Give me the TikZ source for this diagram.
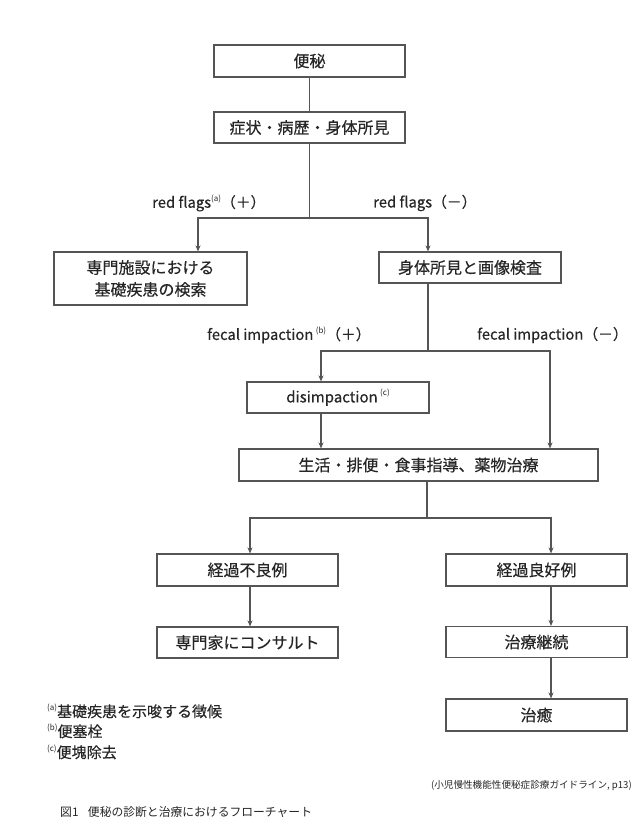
\documentclass[tikz,border=0pt]{standalone}
\usepackage{fontspec}
\setmainfont{Noto Sans CJK JP}[FakeBold=0.35]
\newfontfamily\plainjp{Noto Sans CJK JP}
\usetikzlibrary{arrows.meta}
\definecolor{lc}{HTML}{555555}
\definecolor{tc}{HTML}{262626}
\newcommand\sps[1]{\raisebox{0.45em}{\plainjp\fontsize{8}{8}\selectfont(#1)}}
\begin{document}
\begin{tikzpicture}[x=1pt,y=-1pt,
  box/.style={draw=lc, line width=1.1pt, text=tc, inner sep=0pt, font=\fontsize{16}{22}\selectfont, align=center},
  ln/.style={draw=lc, line width=1.1pt},
  arr/.style={ln, -{Stealth[length=6pt,width=5pt]}},
  lbl/.style={text=tc, font=\fontsize{14.8}{17}\selectfont, inner sep=0pt},
  fn/.style={text=tc, font=\fontsize{15}{18}\selectfont, inner sep=0pt, anchor=west}]
\useasboundingbox[fill=white] (0,0) rectangle (640,834);
% boxes
\node[box, minimum width=191pt, minimum height=32pt] (n1) at (309.5,61) {便秘};
\node[box, minimum width=191pt, minimum height=31pt] (n2) at (309.5,127.5) {症状・病歴・身体所見};
\node[box, minimum width=193pt, minimum height=53pt] (n3) at (150.5,278.5) {専門施設における\\基礎疾患の検索};
\node[box, minimum width=182pt, minimum height=31pt] (n4) at (470,267.5) {身体所見と画像検査};
\node[box, minimum width=182pt, minimum height=31pt, font=\fontsize{15}{17}\selectfont] (n5) at (338,397.5) {disimpaction\,\sps{c}};
\node[box, minimum width=359pt, minimum height=32pt] (n6) at (418.5,465) {生活・排便・食事指導、薬物治療};
\node[box, minimum width=181pt, minimum height=32pt] (n7) at (247.5,570) {経過不良例};
\node[box, minimum width=181pt, minimum height=32pt] (n8) at (536.5,570) {経過良好例};
\node[box, minimum width=181pt, minimum height=31pt] (n9) at (247.5,642.5) {専門家にコンサルト};
\node[box, minimum width=181pt, minimum height=31pt] (n10) at (536.5,642) {治療継続};
\node[box, minimum width=181pt, minimum height=32pt] (n11) at (536.5,715) {治癒};
% junction coordinates
\coordinate (j1) at (309.5,218);
\coordinate (j1L) at (198,218);
\coordinate (j1R) at (428,218);
\coordinate (j2t) at (428,283);
\coordinate (j2) at (428,351);
\coordinate (j2L) at (321,351);
\coordinate (j2R) at (550,351);
\coordinate (j3) at (427,518);
\coordinate (j3L) at (250,518);
\coordinate (j3R) at (551,518);
% connectors
\draw[ln] (n1) -- (n2);
\draw[ln] (n2) -- (j1);
\draw[arr] (j1) -- (j1L) -- (n3.north -| j1L);
\draw[arr] (j1) -- (j1R) -- (n4.north -| j1R);
\draw[ln] (n4.south -| j2t) -- (j2);
\draw[arr] (j2) -- (j2L) -- (n5.north -| j2L);
\draw[arr] (j2) -- (j2R) -- (n6.north -| j2R);
\draw[arr] (n5.south -| j2L) -- (n6.north -| j2L);
\draw[ln] (n6.south -| j3) -- (j3);
\draw[arr] (j3) -- (j3L) -- (n7.north -| j3L);
\draw[arr] (j3) -- (j3R) -- (n8.north -| j3R);
\draw[arr] (n7.south -| j3L) -- (n9.north -| j3L);
\draw[arr] (n8.south -| j3R) -- (n10.north -| j3R);
\draw[arr] (n10.south -| j3R) -- (n11.north -| j3R);
% labels
\node[lbl, anchor=west] (L1) at (152,203) {red flags\sps{a}（＋）};
\node[lbl, anchor=west] (L2) at (373,203) {red flags（－）};
\node[lbl, anchor=west] (L3) at (207,335) {fecal impaction\,\sps{b}（＋）};
\node[lbl, anchor=west] (L4) at (477,335) {fecal impaction（－）};
% footnotes
\node[fn] (f1) at (47,711) {\sps{a}基礎疾患を示唆する徴候};
\node[fn] (f2) at (47,731) {\sps{b}便塞栓};
\node[fn] (f3) at (47,752) {\sps{c}便塊除去};
% source and caption
\node[text=tc, font=\plainjp\fontsize{9.6}{11}\selectfont, inner sep=0pt, anchor=east] (src) at (632,786) {(小児慢性機能性便秘症診療ガイドライン, p13)};
\node[text=tc, font=\plainjp\fontsize{11.8}{14}\selectfont, inner sep=0pt, anchor=west] (cap) at (60,812) {図1\hspace{0.8em}便秘の診断と治療におけるフローチャート};
\end{tikzpicture}
\end{document}
